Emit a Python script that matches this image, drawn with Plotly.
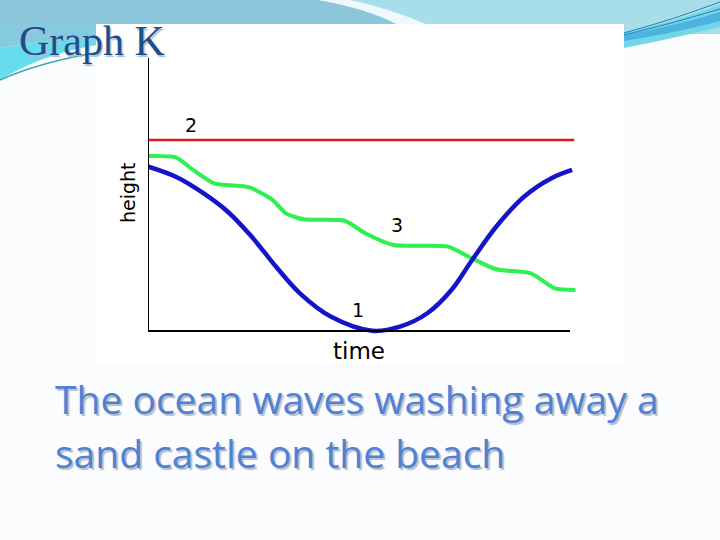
import plotly.graph_objects as go

W, H = 720, 540

# ---- data (time 0..100 along the axis, height 0..100 up the axis)
time_red = [0, 101]
height_red = [70, 70]

time_green = [0.1, 6.6, 10.7, 15.6, 22.2, 24.6, 29.5, 32.7, 36.8, 46.6, 51.5, 58.1,
              71.1, 76.0, 82.5, 90.7, 96.4, 101.3]
height_green = [64.1, 63.6, 59.0, 54.1, 53.1, 52.3, 48.0, 43.1, 40.9, 40.4, 35.8, 31.5,
                30.9, 27.2, 22.6, 21.1, 15.6, 15.0]

time_blue = [0.1, 6.6, 13.2, 18.9, 24.6, 30.3, 36.0, 43.4, 53.1, 59.7, 66.2, 71.9,
             76.8, 82.5, 89.1, 95.5, 100.5]
height_blue = [60.2, 56.5, 50.4, 43.7, 34.5, 23.6, 13.8, 5.2, 0.1, 1.6, 6.5, 15.0,
               26.0, 38.2, 49.2, 55.9, 59.0]

line_labels = ["2", "3", "1"]
label_time = [10.3, 59.1, 49.8]
label_height = [75.5, 38.8, 7.7]

title_text = "Graph K"
caption_lines = ["The ocean waves washing away a", "sand castle on the beach"]


def px(x):
    return x / W


def py(y):
    return 1 - y / H


def path(cmds):
    out = []
    for c in cmds:
        op = c[0]
        nums = c[1:]
        pts = []
        for i in range(0, len(nums), 2):
            pts.append(f"{px(nums[i]):.5f},{py(nums[i+1]):.5f}")
        out.append(op + " " + " ".join(pts) if pts else op)
    return " ".join(out)


shapes = []


def add_path(cmds, fill=None, line_color=None, width=0):
    shapes.append(dict(type="path", xref="paper", yref="paper", layer="below",
                       path=path(cmds),
                       fillcolor=fill if fill else "rgba(0,0,0,0)",
                       line=dict(color=line_color if line_color else "rgba(0,0,0,0)", width=width)))


def add_rect(x0, y0, x1, y1, fill):
    shapes.append(dict(type="rect", xref="paper", yref="paper", layer="below",
                       x0=px(x0), x1=px(x1), y0=py(y1), y1=py(y0),
                       fillcolor=fill, line=dict(width=0)))


# top band
add_rect(0, 0, 720, 24, "#8cc6db")
add_path([("M", 330, 0), ("Q", 385, 10, 420, 24), ("L", 720, 24), ("L", 720, 0), ("Z",)], fill="#a8dee9")
add_path([("M", 318, 0), ("Q", 368, 9, 396, 24), ("L", 426, 24), ("Q", 388, 8, 350, 0), ("Z",)], fill="#eef9fb")
# left swoosh
add_path([("M", 0, 24), ("L", 96, 24), ("L", 96, 38), ("Q", 45, 40, 0, 48), ("Z",)], fill="#86cadd")
add_path([("M", 0, 48), ("Q", 45, 40, 96, 38), ("L", 96, 45), ("Q", 40, 55, 0, 80), ("Z",)], fill="#66dcec")
add_path([("M", 0, 80), ("Q", 40, 62, 100, 52)], line_color="#3aa8b6", width=1.5)
# right swoosh
add_rect(624, 24, 720, 34, "#a8dee9")
add_path([("M", 624, 32), ("Q", 675, 22, 720, 5), ("L", 720, 27), ("Q", 675, 38, 624, 48), ("Z",)], fill="#72d5ea")
add_path([("M", 624, 35), ("Q", 675, 26, 720, 12), ("L", 720, 21), ("Q", 675, 33, 624, 41), ("Z",)], fill="#4cb3dc")
add_path([("M", 624, 33), ("Q", 675, 19, 720, 2)], line_color="#2b7fb8", width=1)
add_path([("M", 624, 35), ("Q", 675, 23, 720, 9)], line_color="#2b7fb8", width=1)
# white picture box
add_rect(96, 24, 624, 364, "#ffffff")

# axis lines (in data coordinates)
shapes.append(dict(type="line", xref="x", yref="y", x0=0, x1=0, y0=0, y1=100,
                   line=dict(color="black", width=2)))
shapes.append(dict(type="line", xref="x", yref="y", x0=0, x1=100, y0=0, y1=0,
                   line=dict(color="black", width=2)))

fig = go.Figure()
fig.add_trace(go.Scatter(x=time_red, y=height_red, mode="lines",
                         line=dict(color="#e01818", width=2.5), hoverinfo="skip"))
fig.add_trace(go.Scatter(x=time_green, y=height_green, mode="lines",
                         line=dict(color="#2ef050", width=4, shape="spline", smoothing=0.6),
                         hoverinfo="skip"))
fig.add_trace(go.Scatter(x=time_blue, y=height_blue, mode="lines",
                         line=dict(color="#1414c8", width=4.5, shape="spline"),
                         hoverinfo="skip"))

# pixel geometry of the plotting area
X0, XU = 148, 4.22     # px of time 0, px per unit
Y0, YU = 331, 2.73     # px of height 0, px per unit
xd = (148, 578)
yd = (50, 337)

annotations = []
for t, x, y in zip(line_labels, label_time, label_height):
    annotations.append(dict(x=x, y=y, xref="x", yref="y", text=t, showarrow=False,
                            font=dict(family="DejaVu Sans", size=19, color="black")))

annotations.append(dict(x=px(115), y=py(192), xref="paper", yref="paper", text="height",
                        textangle=-90, showarrow=False,
                        font=dict(family="DejaVu Sans", size=19, color="black")))
annotations.append(dict(x=px(359), y=py(351), xref="paper", yref="paper", text="time",
                        showarrow=False,
                        font=dict(family="DejaVu Sans", size=23, color="black")))

annotations.append(dict(x=px(17), y=py(41), xref="paper", yref="paper",
                        text=title_text, showarrow=False, xanchor="left", yanchor="middle",
                        font=dict(family="Liberation Serif", size=42, color="#1b4f8c",
                                  shadow="1.5px 1.5px 1px #a9bfd6")))

for i, line in enumerate(caption_lines):
    yc = 398 + 54 * i
    annotations.append(dict(x=px(53), y=py(yc), xref="paper", yref="paper",
                            text=line, showarrow=False, xanchor="left", yanchor="middle",
                            font=dict(family="Open Sans", size=39, color="#4f82d6",
                                      shadow="2px 2px 1px #b6bdca")))

fig.update_layout(
    width=W, height=H,
    margin=dict(l=0, r=0, t=0, b=0),
    paper_bgcolor="#fbfcfd",
    plot_bgcolor="rgba(0,0,0,0)",
    showlegend=False,
    shapes=shapes,
    annotations=annotations,
    xaxis=dict(domain=[xd[0] / W, xd[1] / W],
               range=[(xd[0] - X0) / XU, (xd[1] - X0) / XU],
               visible=False, fixedrange=True),
    yaxis=dict(domain=[(H - yd[1]) / H, (H - yd[0]) / H],
               range=[(Y0 - yd[1]) / YU, (Y0 - yd[0]) / YU],
               visible=False, fixedrange=True),
)

fig.write_html("out.html", config={"displayModeBar": False},
               post_script="document.body.style.margin='0';")
